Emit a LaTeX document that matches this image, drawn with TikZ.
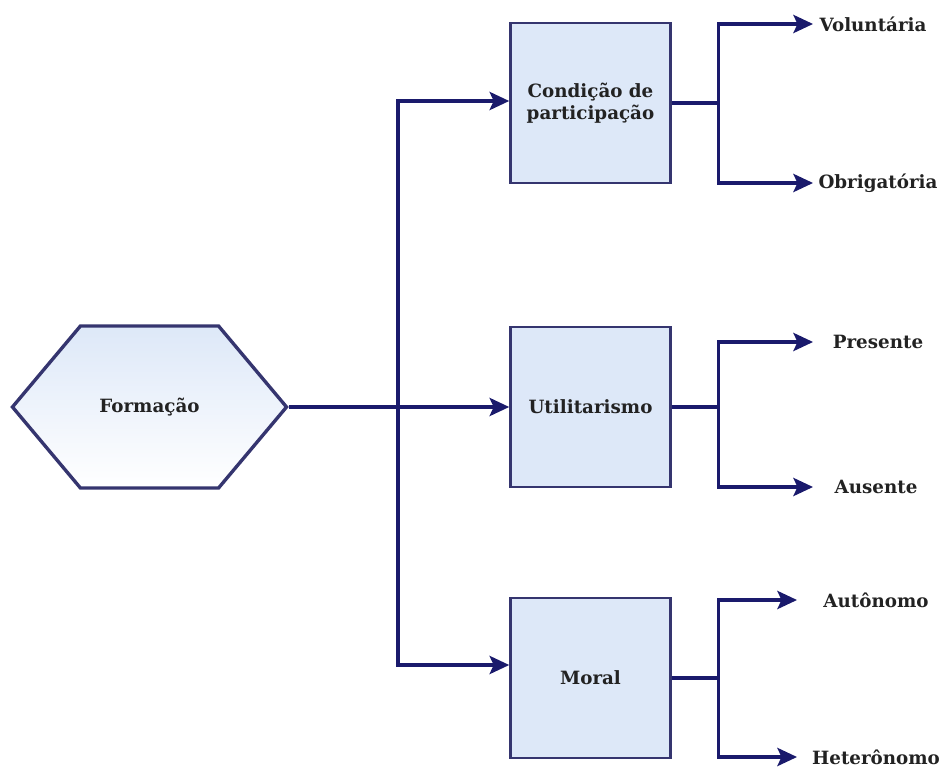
\documentclass[tikz,border=0pt]{standalone}
\usepackage{fontspec}
\setmainfont{DejaVu Serif}
\usetikzlibrary{arrows.meta,shapes.symbols}

\definecolor{navy}{HTML}{1A1A6C}
\definecolor{edgeblue}{HTML}{35356F}
\definecolor{boxfill}{HTML}{DDE8F8}
\definecolor{ink}{HTML}{222222}

\tikzset{
  box/.style={draw=edgeblue, line width=1.8pt, fill=boxfill, text=ink,
    minimum width=4.0cm, minimum height=4.0cm, align=center,
    font=\fontsize{13}{16}\selectfont\bfseries},
  hexa/.style={shape=signal, signal to=west and east, signal pointer angle=100,
    draw=edgeblue, line width=2.4pt, top color=boxfill, bottom color=white,
    text=ink, minimum width=6.85cm, minimum height=4.05cm,
    font=\fontsize{13}{16}\selectfont\bfseries},
  leaf/.style={text=ink, font=\fontsize{13}{16}\selectfont\bfseries},
  wire/.style={draw=navy, line width=2.2pt},
  link/.style={wire, -{Stealth[length=14pt,width=13pt,inset=3pt]}}
}

\begin{document}
\begin{tikzpicture}[x=0.025cm,y=-0.025cm]
    \useasboundingbox (0,0) rectangle (941,768);
    % Root and the three criteria
    \node[hexa] (form) at (149.5,407) {Formação};
    \node[box] (cond) at (590.5,103) {Condição de\\participação};
    \node[box] (util) at (590.5,407) {Utilitarismo};
    \node[box] (moral) at (590.5,678) {Moral};
    % Leaves
    \node[leaf] (vol) at (873,24) {Voluntária};
    \node[leaf] (obr) at (878,183) {Obrigatória};
    \node[leaf] (pre) at (878,342) {Presente};
    \node[leaf] (aus) at (876,487) {Ausente};
    \node[leaf] (aut) at (876,600) {Autônomo};
    \node[leaf] (het) at (876,757) {Heterônomo};
    % Trunk from the hexagon
    \coordinate (top) at (398,101);
    \coordinate (bot) at (398,665);
    \draw[link] (form.east) -- (util.west);
    \draw[wire, {Stealth[length=14pt,width=13pt,inset=3pt]}-{Stealth[length=14pt,width=13pt,inset=3pt]}]
      (cond.west |- top) -- (top) -- (bot) -- (moral.west |- bot);
    % Forks to the leaves
    \foreach \n/\a/\b/\tip in {cond/vol/obr/813, util/pre/aus/813, moral/aut/het/797} {
      \coordinate (\n-j) at ([xshift=47*0.025cm]\n.east);
      \coordinate (\n-a) at (\tip,0 |- \a);
      \coordinate (\n-b) at (\tip,0 |- \b);
      \draw[wire] (\n.east) -- (\n-j);
      \draw[link] (\n-j) |- (\n-a);
      \draw[link] (\n-j) |- (\n-b);
    }
\end{tikzpicture}
\end{document}
